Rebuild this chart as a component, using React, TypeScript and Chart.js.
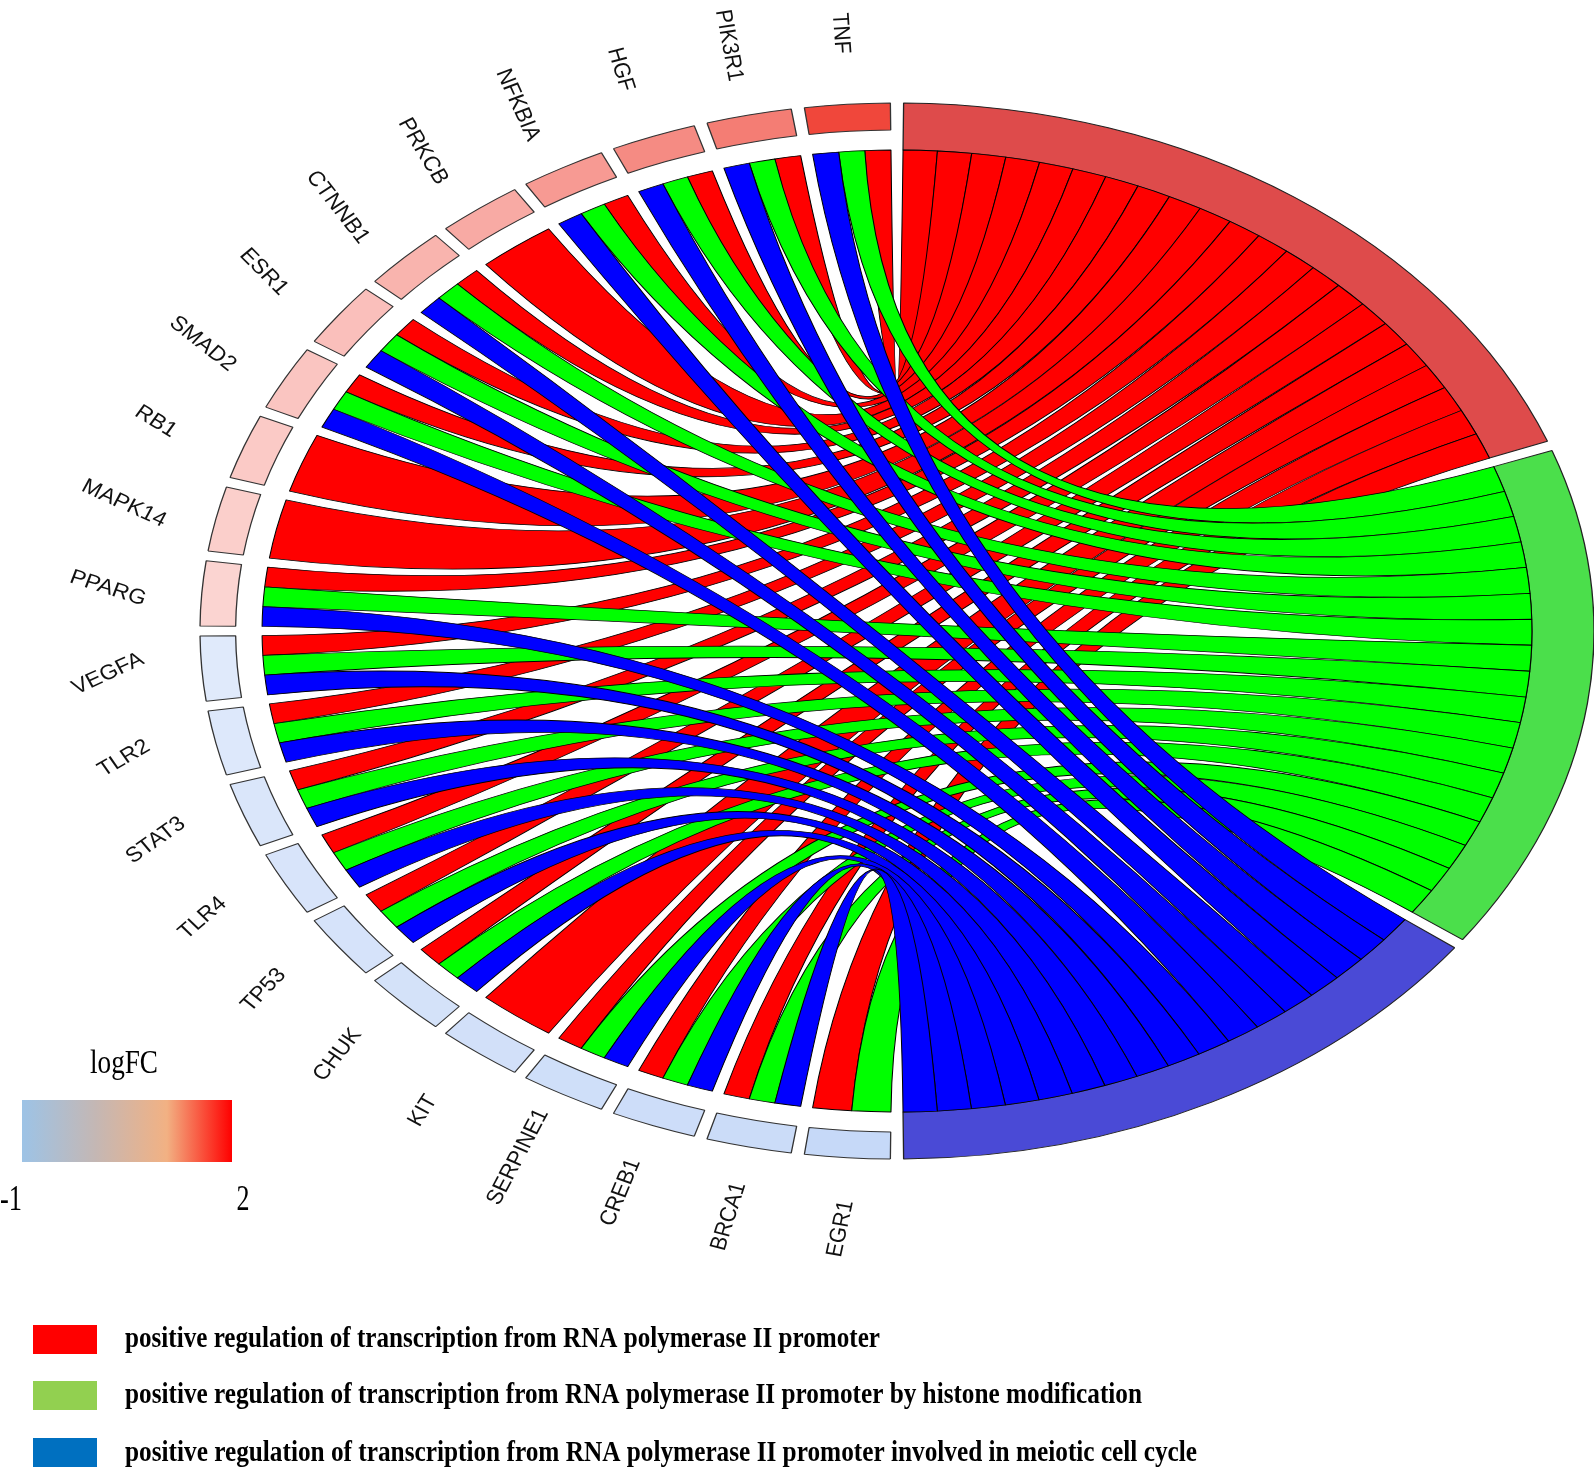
import React, { useEffect, useRef } from 'react';
import { Chart, registerables } from 'chart.js';

Chart.register(...registerables);

// ---------------- data ----------------
const genes = ['TNF', 'PIK3R1', 'HGF', 'NFKBIA', 'PRKCB', 'CTNNB1', 'ESR1', 'SMAD2', 'RB1', 'MAPK14', 'PPARG',
  'VEGFA', 'TLR2', 'STAT3', 'TLR4', 'TP53', 'CHUK', 'KIT', 'SERPINE1', 'CREB1', 'BRCA1', 'EGR1'];
const logFC = [1.9, 1.35, 1.2, 1.05, 0.88, 0.78, 0.66, 0.6, 0.55, 0.5, 0.45,
  -0.3, -0.33, -0.36, -0.38, -0.4, -0.42, -0.44, -0.46, -0.48, -0.5, -0.55];
const termNames = [
  'positive regulation of transcription from RNA polymerase II promoter',
  'positive regulation of transcription from RNA polymerase II promoter by histone modification',
  'positive regulation of transcription from RNA polymerase II promoter involved in meiotic cell cycle',
];
const memberTerm1 = [1, 1, 1, 1, 1, 1, 1, 1, 1, 1, 1, 1, 1, 1, 1, 1, 1, 1, 1, 1, 1, 1];
const memberTerm2 = [1, 1, 1, 1, 0, 1, 1, 1, 0, 0, 1, 1, 1, 1, 1, 1, 1, 0, 1, 1, 1, 1];
const memberTerm3 = [1, 1, 1, 1, 0, 1, 1, 1, 0, 0, 1, 1, 1, 1, 1, 1, 1, 0, 1, 1, 1, 0];
const logFCTicks = [-1, 2];

// ---------------- styles ----------------
const RIBBON = ['#ff0000', '#00ff00', '#0000ff'];
const RING = ['#de4b4b', '#4bdf4b', '#4a4ad6'];
const SWATCH = ['#ff0000', '#92d050', '#0070c0'];

function mix(a: number[], b: number[], f: number) {
  const c = a.map((v, i) => Math.round(v + (b[i] - v) * f));
  return `rgb(${c[0]},${c[1]},${c[2]})`;
}
function lfcColor(v: number) {
  if (v >= 0) return mix([255, 255, 255], [238, 52, 38], Math.min(v / 2.1, 1));
  return mix([255, 255, 255], [100, 150, 235], Math.min(-v / 1.5, 1));
}

export default function App() {
  const ref = useRef<HTMLCanvasElement>(null);

  useEffect(() => {
    const canvas = ref.current as HTMLCanvasElement;
    const SX = 697 / 528;
    const LABEL_SX = 1.1;
    const GAP = 0.019;
    const membership = [memberTerm1, memberTerm2, memberTerm3];
    const termCounts = membership.map((m) => m.reduce((a, b) => a + b, 0));
    const n = genes.length;
    const order = genes.map((_, i) => n - 1 - i);
    const genesRev = order.map((i) => genes[i]);
    const colorsRev = order.map((i) => lfcColor(logFC[i]));

    const chordPlugin: any = {
      id: 'goChord',
      afterUpdate(chart: any) {
        const gm = chart.getDatasetMeta(0);
        const tm = chart.getDatasetMeta(1);
        const outer = gm.controller.outerRadius;
        [gm, tm].forEach((meta: any) =>
          meta.data.forEach((el: any) => {
            el.startAngle += GAP / 2;
            el.endAngle -= GAP / 2;
            el.circumference = el.endAngle - el.startAngle;
          })
        );
        tm.data.forEach((el: any) => {
          el.outerRadius = outer;
        });
      },
      beforeDatasetsDraw(chart: any) {
        const ctx = chart.ctx;
        const a = chart.chartArea;
        const cx = (a.left + a.right) / 2;
        ctx.save();
        ctx.translate(cx, 0);
        ctx.scale(SX, 1);
        ctx.translate(-cx, 0);
      },
      afterDatasetsDraw(chart: any) {
        const ctx = chart.ctx;
        const gm = chart.getDatasetMeta(0);
        const tm = chart.getDatasetMeta(1);
        const ref0 = tm.data[0];
        const cx = ref0.x;
        const cy = ref0.y;
        const r = ref0.innerRadius;
        const P = (ang: number) => [cx + r * Math.cos(ang), cy + r * Math.sin(ang)];

        ctx.lineWidth = 0.8;
        ctx.strokeStyle = '#000';
        ctx.lineJoin = 'round';
        membership.forEach((mem, t) => {
          const tel = tm.data[t];
          const u = (tel.endAngle - tel.startAngle) / termCounts[t];
          let slot = 0;
          for (let i = 0; i < n; i++) {
            if (!mem[i]) continue;
            const gel = gm.data[n - 1 - i];
            const cnt = membership.filter((m) => m[i]).length;
            const k = membership.slice(0, t).filter((m) => m[i]).length;
            const w = (gel.endAngle - gel.startAngle) / cnt;
            const g1 = gel.endAngle - k * w;
            const g0 = g1 - w;
            const a0 = tel.startAngle + slot * u;
            const a1 = a0 + u;
            slot++;
            const s = P(g0);
            const q = P(a0);
            ctx.beginPath();
            ctx.moveTo(s[0], s[1]);
            ctx.arc(cx, cy, r, g0, g1, false);
            ctx.quadraticCurveTo(cx, cy, q[0], q[1]);
            ctx.arc(cx, cy, r, a0, a1, false);
            ctx.quadraticCurveTo(cx, cy, s[0], s[1]);
            ctx.closePath();
            ctx.fillStyle = RIBBON[t];
            ctx.fill();
            ctx.stroke();
          }
        });
        ctx.restore();

        // gene labels (drawn in page space, mild horizontal stretch)
        ctx.save();
        ctx.fillStyle = '#111';
        ctx.font = '21px "Liberation Sans", Arial, sans-serif';
        ctx.textAlign = 'center';
        ctx.textBaseline = 'middle';
        for (let i = 0; i < n; i++) {
          const gel = gm.data[n - 1 - i];
          const th = (gel.startAngle + gel.endAngle) / 2;
          const rl = gel.outerRadius * 1.135;
          const px = cx + SX * rl * Math.cos(th);
          const py = cy + rl * Math.sin(th);
          let psi = th + Math.PI;
          while (psi > Math.PI) psi -= 2 * Math.PI;
          const deg = (psi * 180) / Math.PI;
          const A = deg >= 0 ? 14 + 0.84 * deg : -(22 + 0.65 * Math.abs(deg));
          const rho = Math.atan(LABEL_SX * Math.tan((A * Math.PI) / 180));
          ctx.save();
          ctx.translate(px, py);
          ctx.scale(LABEL_SX, 1);
          ctx.rotate(rho);
          ctx.fillText(genes[i], 0, 0);
          ctx.restore();
        }
        ctx.restore();
      },
      afterDraw(chart: any) {
        const ctx = chart.ctx;
        ctx.save();
        ctx.fillStyle = '#000';
        ctx.textBaseline = 'alphabetic';
        const fitText = (txt: string, x: number, y: number, width: number, align: string) => {
          const mw = ctx.measureText(txt).width;
          ctx.save();
          ctx.translate(x, y);
          ctx.scale(width / mw, 1);
          ctx.textAlign = align;
          ctx.fillText(txt, 0, 0);
          ctx.restore();
        };
        // logFC colour bar
        ctx.font = '33px "Liberation Serif", "DejaVu Serif", serif';
        fitText('logFC', 124, 1073, 68, 'center');
        const g = ctx.createLinearGradient(22, 0, 232, 0);
        g.addColorStop(0, '#9dc3e6');
        g.addColorStop(0.35, '#c4b7b4');
        g.addColorStop(0.69, '#f2b183');
        g.addColorStop(1, '#ff0000');
        ctx.fillStyle = g;
        ctx.fillRect(22, 1100, 210, 62);
        ctx.fillStyle = '#000';
        ctx.font = '36px "Liberation Serif", "DejaVu Serif", serif';
        fitText(String(logFCTicks[0]), 11, 1210, 22, 'center');
        fitText(String(logFCTicks[1]), 243, 1210, 13, 'center');

        // term legend
        const rectY = [1325, 1381, 1438];
        const baseY = [1347, 1403, 1461];
        const widths = [755, 1017, 1072];
        ctx.font = 'bold 29px "Liberation Serif", "DejaVu Serif", serif';
        termNames.forEach((name, t) => {
          ctx.fillStyle = SWATCH[t];
          ctx.fillRect(33, rectY[t], 64, 29);
          ctx.fillStyle = '#000';
          fitText(name, 125, baseY[t], widths[t], 'left');
        });
        ctx.restore();
      },
    };

    const chart = new Chart(canvas, {
      type: 'doughnut',
      data: {
        labels: genesRev,
        datasets: [
          {
            data: genesRev.map(() => 1),
            backgroundColor: colorsRev,
            borderColor: '#333',
            borderWidth: 1,
            rotation: 180,
            circumference: 180,
            weight: 27,
            clip: false,
          } as any,
          {
            data: termCounts,
            backgroundColor: RING,
            borderColor: '#222',
            borderWidth: 1,
            rotation: 0,
            circumference: 180,
            weight: 20,
            clip: false,
          } as any,
        ],
      },
      options: {
        responsive: false,
        animation: false,
        devicePixelRatio: 1,
        cutout: '91.098%',
        radius: 528,
        events: [],
        layout: { padding: { left: 357, right: 157, top: 91, bottom: 301 } },
        plugins: { legend: { display: false }, tooltip: { enabled: false } },
      } as any,
      plugins: [chordPlugin],
    });
    return () => chart.destroy();
  }, []);

  return (
    <div style={{ position: 'absolute', left: 0, top: 0, width: 1594, height: 1472, background: '#fff' }}>
      <canvas ref={ref} width={1594} height={1472} style={{ width: 1594, height: 1472, display: 'block' }} />
    </div>
  );
}
